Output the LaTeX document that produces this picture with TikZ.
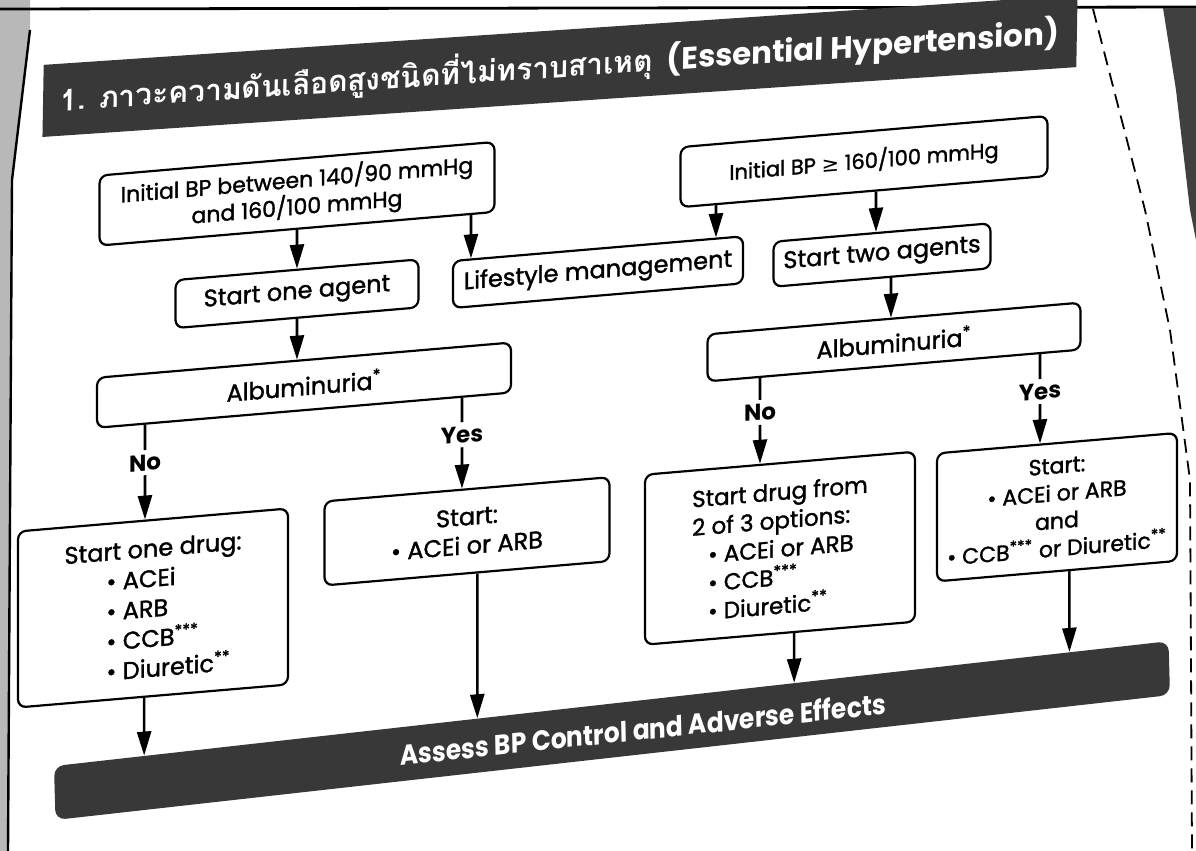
\documentclass[tikz,border=0pt]{standalone}
\usepackage{fontspec}
\setmainfont{Poppins}[UprightFeatures={FakeBold=1.4}]
\newfontfamily\thaifont[Script=Thai]{Loma}
\newfontfamily\dejavu{DejaVu Sans}
\usetikzlibrary{arrows.meta,calc}
\newcommand{\mybul}{\textbullet\ }
\begin{document}
\begin{tikzpicture}[x=0.5pt,y=-0.5pt,
  box/.style={draw=black,line width=1.1pt,rounded corners=4pt,fill=white,align=center,inner sep=0pt,text=black,font=\fontsize{12}{15}\selectfont},
  arr/.style={line width=1.3pt,-{Triangle[width=7pt,length=12pt]}},
  ln/.style={line width=1.3pt},
  lab/.style={font=\bfseries\fontsize{11.5}{13}\selectfont,inner sep=2pt,text=black},
  banner/.style={fill=black!78,rounded corners=5pt,inner sep=0pt,text=white}]
\useasboundingbox (0,0) rectangle (1196,851);
\clip (0,0) rectangle (1196,851);
\fill[white] (0,0) rectangle (1196,851);
% page edges of the scan
\fill[black!28] (0,0) -- (30,0) -- (30,35) -- (12,180) -- (8,851) -- (0,851) -- cycle;
\draw[line width=1.2pt] (30,30) -- (12,180) -- (8,851);
\draw[line width=1.4pt] (0,9) -- (1196,7);
\fill[black!75] (1163,8) -- (1196,8) -- (1196,240) -- (1190,210) -- (1176,90) -- cycle;
\draw[line width=0.9pt,dash pattern=on 7pt off 4pt] (1093,9) -- (1145,210) -- (1170,330) -- (1190,480) -- (1192,851);

\begin{scope}[transform canvas={yslant=0.085}]
% title banner
\node[banner,rounded corners=0pt,minimum width=517pt,minimum height=36pt,rotate=-1] (T) at (560,113.6)
  {\resizebox{296pt}{!}{\thaifont\bfseries 1. ภาวะความดันเลือดสูงชนิดที่ไม่ทราบสาเหตุ}\hspace{7pt}\resizebox{196pt}{!}{\bfseries (Essential Hypertension)}};

% boxes
\node[box,minimum width=197.5pt,minimum height=35pt,font=\fontsize{11}{13.5}\selectfont] (A) at (297,219) {Initial BP between 140/90 mmHg\\and 160/100 mmHg};
\node[box,minimum width=183.5pt,minimum height=30pt,font=\fontsize{10.5}{12}\selectfont] (B) at (864,235) {Initial BP {\dejavu ≥} 160/100 mmHg};
\node[box,minimum width=121.5pt,minimum height=24pt] (C) at (297,319) {Start one agent};
\node[box,minimum width=145pt,minimum height=23.5pt] (D) at (598,323) {Lifestyle management};
\node[box,minimum width=108.5pt,minimum height=22.5pt] (E) at (882,330) {Start two agents};
\node[box,minimum width=207pt,minimum height=25pt] (F) at (304,411) {Albuminuria\textsuperscript{*}};
\node[box,minimum width=186.5pt,minimum height=23.5pt] (G) at (894,418) {Albuminuria\textsuperscript{*}};
\node[box,minimum width=135pt,minimum height=88pt,align=left] (H) at (153,621)
  {Start one drug:\\\hspace*{21pt}\mybul ACEi\\\hspace*{21pt}\mybul ARB\\\hspace*{21pt}\mybul CCB\textsuperscript{***}\\\hspace*{21pt}\mybul Diuretic\textsuperscript{**}};
\node[box,minimum width=142.5pt,minimum height=42pt,font=\fontsize{12}{14.5}\selectfont] (I) at (467,571) {Start:\\\mybul ACEi or ARB};
\node[box,minimum width=135pt,minimum height=85pt,align=left,font=\fontsize{11.5}{14.2}\selectfont] (J) at (780,614.5)
  {Start drug from\\2 of 3 options:\\\hspace*{8pt}\mybul ACEi or ARB\\\hspace*{8pt}\mybul CCB\textsuperscript{***}\\\hspace*{8pt}\mybul Diuretic\textsuperscript{**}};
\node[box,minimum width=120pt,minimum height=64pt,font=\fontsize{11}{13.8}\selectfont] (K) at (1057,597)
  {Start:\\\mybul ACEi or ARB\\and\\\mybul CCB\textsuperscript{***} or Diuretic\textsuperscript{**}};

% bottom banner
\node[banner,minimum width=557.5pt,minimum height=27pt,rotate=1.55] (P) at (612,782.6) {};
\node[text=white,inner sep=0pt,rotate=1.2] (Pt) at ($(P.center)+(31,1)$)
  {\resizebox{243pt}{11pt}{\bfseries Assess BP Control and Adverse Effects}};

% labels
\node[lab] (nF) at (145,475) {No};
\node[lab] (yF) at (462,474) {Yes};
\node[lab] (nG) at (760,477) {No};
\node[lab] (yG) at (1040,480) {Yes};

% x positions of connectors
\coordinate (xAD) at (471,0);
\coordinate (xBD) at (716,0);
\coordinate (xBE) at (876,0);
\coordinate (xEG) at (891,0);
\coordinate (pH) at ($(P.north west)!0.0812!(P.north east)$);
\coordinate (pI) at ($(P.north west)!0.3799!(P.north east)$);
\coordinate (pJ) at ($(P.north west)!0.664!(P.north east)$);
\coordinate (pK) at ($(P.north west)!0.9108!(P.north east)$);

% connectors
\draw[arr] (A.south -| C.north) -- (C.north);
\draw[arr] (A.south -| xAD) -- (D.north -| xAD);
\draw[arr] (B.south -| xBD) -- (D.north -| xBD);
\draw[arr] (B.south -| xBE) -- (E.north -| xBE);
\draw[arr] (C.south) -- (F.north -| C.south);
\draw[arr] (E.south -| xEG) -- (G.north -| xEG);
\draw[ln] (F.south -| nF) -- (nF.north);
\draw[arr] (nF.south) -- (H.north -| nF);
\draw[ln] (F.south -| yF) -- (yF.north);
\draw[arr] (yF.south) -- (I.north -| yF);
\draw[ln] (G.south -| nG) -- (nG.north);
\draw[arr] (nG.south) -- (J.north -| nG);
\draw[ln] (G.south -| yG) -- (yG.north);
\draw[arr] (yG.south) -- (K.north -| yG);
\draw[arr] (H.south -| pH) -- (pH);
\draw[arr] (I.south -| pI) -- (pI);
\draw[arr] (J.south -| pJ) -- (pJ);
\draw[arr] (K.south -| pK) -- (pK);
\end{scope}
\end{tikzpicture}
\end{document}
